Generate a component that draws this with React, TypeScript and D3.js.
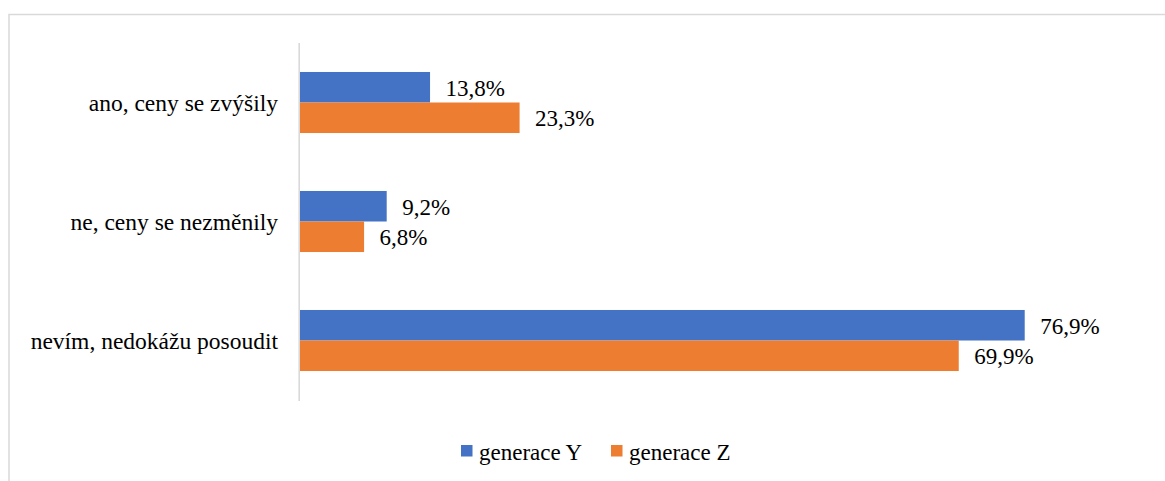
import React from "react";
import * as d3 from "d3";

const categories = ["ano, ceny se zvýšily", "ne, ceny se nezměnily", "nevím, nedokážu posoudit"];
const seriesNames = ["generace Y", "generace Z"];
const genY = [13.8, 9.2, 76.9];
const genZ = [23.3, 6.8, 69.9];
const colors = ["#4472C4", "#ED7D31"];

const W = 1165;
const H = 481;
const FONT = "Liberation Serif, Times New Roman, serif";

export default function App() {
  const values = [genY, genZ];
  const x = d3.scaleLinear().domain([0, 80]).range([300, 300 + 80 * 9.424]);
  const y = d3.scaleBand<string>().domain(categories).range([43, 400]).paddingInner(0.487).paddingOuter(0.2435);
  const inner = d3.scaleBand<string>().domain(seriesNames).range([0, y.bandwidth()]).padding(0);
  const fmt = (v: number) => v.toFixed(1).replace(".", ",") + "%";
  const ts = { fontFamily: FONT };

  return (
    <svg width={W} height={H} style={{ position: "absolute", left: 0, top: 0, background: "#fff", fontFamily: FONT }}>
      <rect x={9} y={14.5} width={1300} height={700} fill="#fff" stroke="#d9d9d9" strokeWidth={1.5} />
      {categories.map((c) => (
        <text key={c} x={278} y={(y(c) ?? 0) + y.bandwidth() / 2 + 8.5} textAnchor="end" style={ts} fontSize={23.5} fill="#000">
          {c}
        </text>
      ))}
      {categories.map((c, i) =>
        seriesNames.map((s, si) => {
          const v = values[si][i];
          const by = (y(c) ?? 0) + (inner(s) ?? 0);
          const bh = inner.bandwidth();
          return (
            <g key={c + s}>
              <rect x={x(0)} y={by} width={x(v) - x(0)} height={bh} fill={colors[si]} />
              <text x={x(v) + 15.5} y={by + bh / 2 + 8.5} style={ts} fontSize={23} fill="#000">
                {fmt(v)}
              </text>
            </g>
          );
        })
      )}
      <line x1={299.2} x2={299.2} y1={43} y2={401} stroke="#d9d9d9" strokeWidth={1.6} />
      {seriesNames.map((s, si) => {
        const lx = [461, 611][si];
        return (
          <g key={s}>
            <rect x={lx} y={445} width={11.5} height={11.5} fill={colors[si]} />
            <text x={lx + 18} y={460} style={ts} fontSize={23} fill="#000">
              {s}
            </text>
          </g>
        );
      })}
    </svg>
  );
}
